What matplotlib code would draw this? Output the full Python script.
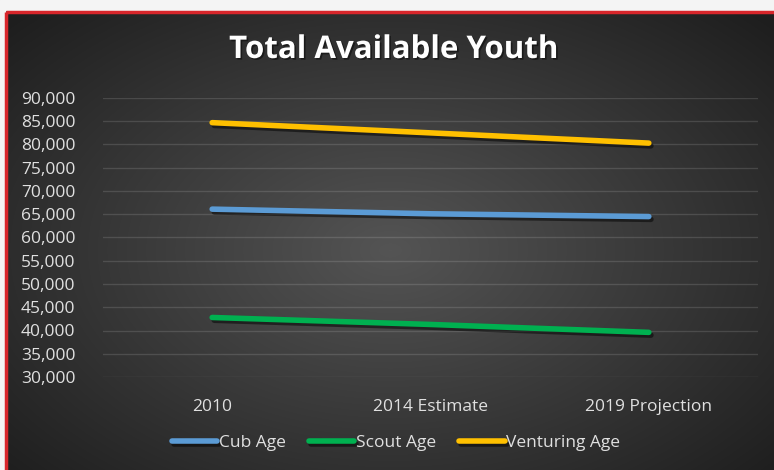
import numpy as np
import matplotlib
matplotlib.use("Agg")
import matplotlib.pyplot as plt
from matplotlib.patches import Rectangle
from matplotlib import patheffects as pe

categories = ["2010", "2014 Estimate", "2019 Projection"]
cub_age = [66100, 65100, 64500]
scout_age = [42800, 41300, 39600]
venturing_age = [84700, 82500, 80300]
y_ticks = [30000, 35000, 40000, 45000, 50000, 55000, 60000, 65000, 70000, 75000, 80000, 85000, 90000]

plt.rcParams['font.family'] = ['Open Sans', 'DejaVu Sans']

W, H = 774, 470
fig = plt.figure(figsize=(W / 100, H / 100), dpi=100, facecolor='white')

# background: white strip, red frame, dark radial gradient
bg = fig.add_axes([0, 0, 1, 1], zorder=0)
bg.set_xlim(0, W)
bg.set_ylim(H, 0)
bg.axis('off')
yy, xx = np.mgrid[0:H, 0:W]
r = np.sqrt(((xx - 390) / 520.0) ** 2 + ((yy - 250) / 330.0) ** 2)
shade = np.clip(0.33 - 0.21 * r, 0.12, 0.35)
img = np.dstack([shade, shade, shade])
bg.imshow(img, extent=(0, W, H, 0), aspect='auto', zorder=0)
bg.add_patch(Rectangle((0, 0), W, 10, color='#f4f4f4', zorder=1))
bg.add_patch(Rectangle((0, 0), 5, H, color='#f4f4f4', zorder=1))
bg.add_patch(Rectangle((6, 11.5), W + 5, H, fill=False, edgecolor='#d8262b', lw=2.5, zorder=2))

# title
title = "Total Available Youth"
bg.text(394, 50, title, color='white', fontsize=22.5, fontweight='bold',
        ha='center', va='center', zorder=3,
        path_effects=[pe.withSimplePatchShadow(offset=(1.2, -1.2), shadow_rgbFace='black', alpha=0.45)])

# plot area
x0, x1 = 103, 758
ytop, ybot = 98, 377
ax = fig.add_axes([x0 / W, 1 - ybot / H, (x1 - x0) / W, (ybot - ytop) / H], zorder=1)
ax.patch.set_alpha(0)
x = np.arange(len(categories))

series = [(cub_age, '#5b9bd5', 'Cub Age'),
          (scout_age, '#00b050', 'Scout Age'),
          (venturing_age, '#ffc000', 'Venturing Age')]
for vals, col, lab in series:
    ax.plot(x, vals, color=col, lw=4, solid_capstyle='round', label=lab,
            path_effects=[pe.SimpleLineShadow(offset=(1.5, -2), shadow_color='black', alpha=0.5),
                          pe.Normal()])

ax.set_xlim(-0.5, 2.5)
ax.set_ylim(30000, 90000)
ax.set_yticks(y_ticks)
ax.set_yticklabels([f"{v:,}" for v in y_ticks])
ax.set_xticks(x)
ax.set_xticklabels(categories)
ax.grid(axis='y', color='white', alpha=0.13, lw=1)
ax.set_axisbelow(True)
for s in ax.spines.values():
    s.set_visible(False)
ax.tick_params(axis='both', length=0, colors='#e0e0e0', labelsize=12.5)
ax.tick_params(axis='y', pad=20)
ax.tick_params(axis='x', pad=16)

leg = fig.legend(loc='center', bbox_to_anchor=(396 / W, 1 - 443 / H), ncol=3, frameon=False,
                 fontsize=12.5, handlelength=2.6, handletextpad=0.1, columnspacing=1.35,
                 labelcolor='#e0e0e0')

fig.savefig("out.png", dpi=100, facecolor=fig.get_facecolor())
